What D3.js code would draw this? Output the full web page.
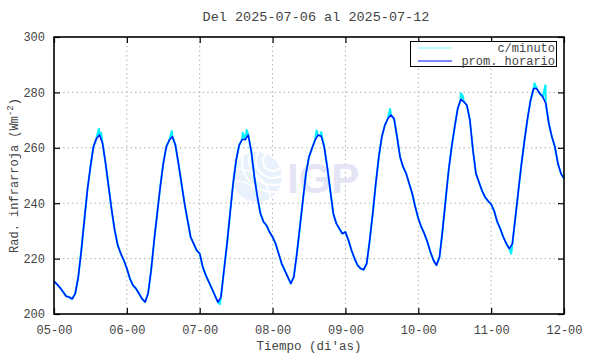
<!DOCTYPE html>
<html>
<head>
<meta charset="utf-8">
<script src="https://cdn.jsdelivr.net/npm/d3@7"></script>
<style>
  html, body { margin: 0; padding: 0; background: #fff; }
  svg { display: block; }
  text { font-family: "Liberation Mono", "DejaVu Sans Mono", monospace; fill: #444; }
</style>
</head>
<body>
<svg id="chart" width="590" height="354"></svg>
<script>
// ---- data (hourly averages, one array per day, value at hour 0..23) ----
const title = "Del 2025-07-06 al 2025-07-12";
const xTickLabels = ["05-00", "06-00", "07-00", "08-00", "09-00", "10-00", "11-00", "12-00"];
const yTicks = [200, 220, 240, 260, 280, 300];
const day05 = [211.8,210.7,209.5,208,206.4,206.1,205.5,207.4,213.4,223,233.9,244.7,253.1,260.4,263.4,264.6,261.6,254.3,245.9,237.5,230.2,224.8,221.8,219.4];
const day06 = [216.4,212.8,210.4,209.2,207.4,205.5,204.3,207.4,215.8,226.6,236.3,245.9,254.3,260.4,262.8,264,261,254.3,247.1,239.9,233.9,227.8,225.4,223];
const day07 = [221.8,217,214,211.6,209.2,206.7,204.3,206.1,215.8,225.4,236.3,247.1,255.5,261,263,263,264.6,258.6,249.5,242.3,236.3,233.3,232,229.6];
const day08 = [227.8,225.4,221.8,218.2,215.8,213.4,211,213.4,221.8,231.4,241.1,250.7,256.7,259.8,262.8,264.6,264.2,260.4,253.1,244.7,236.3,232.7,230.8,229];
const day09 = [229.6,226.6,223,220,217.6,216.4,216,218.2,226.6,236.3,247.1,256.7,264,268.2,270.6,271.8,270.6,264,256.7,253.1,250.7,247.1,243.5,238.7];
const day10 = [234.5,231.4,229,226,222.4,219.4,217.6,220.6,230.2,241.1,251.9,260.4,267.6,274.2,277.5,276.6,275.4,270,259.2,250.7,247.6,244.5,242.2,240.8];
const day11 = [239.6,237.2,233.3,230.8,227.8,225.4,223.6,225.4,235,244.7,254.3,262.8,270.6,277.2,281.4,281.4,279.6,278.4,276,268.8,264,260.4,254.3,250.7];
const lastValue = 248.9;
// per-minute extremes seen above/below the hourly curve: [hour since start, value]
const minuteSpikes = [[14.8,266.8],[15.5,265.4],[38.8,266],[62.2,265.4],[63.5,266.4],[54.6,203.6],
  [86.5,266.2],[88,265.6],[110.7,274],[134,279.6],[134.6,278.8],[158.3,283.2],[161.9,282.6],[5.8,205.4],[150.6,221.8]];

// ---- build series ----
const days = [day05, day06, day07, day08, day09, day10, day11];
const hourly = [];
days.forEach((d, i) => d.forEach((v, h) => hourly.push({t: i * 24 + h, v})));
hourly.push({t: 168, v: lastValue});
const minute = hourly.concat(minuteSpikes.map(s => ({t: s[0], v: s[1]}))).sort((a, b) => a.t - b.t);

// ---- layout ----
const L = 54, R = 564, T = 37, B = 314;
const svg = d3.select("#chart");
const x = d3.scaleLinear().domain([0, 168]).range([L, R]);
const y = d3.scaleLinear().domain([200, 300]).range([B, T]);
const xTicks = xTickLabels.map((_, i) => i * 24);

// grid
const grid = svg.append("g");
grid.selectAll("line.gx").data(xTicks.slice(1, -1)).join("line")
  .attr("x1", d => x(d)).attr("x2", d => x(d)).attr("y1", T).attr("y2", B)
  .attr("stroke", "#b0b0b0").attr("stroke-width", 1).attr("stroke-dasharray", "1.5,3");
grid.selectAll("line.gy").data(yTicks.slice(1, -1)).join("line")
  .attr("x1", L).attr("x2", R).attr("y1", d => y(d)).attr("y2", d => y(d))
  .attr("stroke", "#b0b0b0").attr("stroke-width", 1).attr("stroke-dasharray", "1.5,3");

// watermark logo
const wm = svg.append("g");
const cx = 257, cy = 177, r = 25;
wm.append("circle").attr("cx", cx).attr("cy", cy).attr("r", r).attr("fill", "#e8f1fc");
const clip = svg.append("clipPath").attr("id", "lc");
clip.append("circle").attr("cx", cx).attr("cy", cy).attr("r", r);
const arcs = wm.append("g").attr("clip-path", "url(#lc)");
[10, 17, 24, 31].forEach(rr => arcs.append("circle").attr("cx", cx + 16).attr("cy", cy - 16).attr("r", rr)
  .attr("fill", "none").attr("stroke", "#fff").attr("stroke-width", 2));
[22, 34].forEach(rr => arcs.append("circle").attr("cx", cx - 20).attr("cy", cy + 26).attr("r", rr)
  .attr("fill", "none").attr("stroke", "#fff").attr("stroke-width", 1.6));
wm.append("text").attr("x", 287).attr("y", 193).text("IGP")
  .style("font-family", "Liberation Sans, Arial, sans-serif").style("font-weight", "bold")
  .style("font-size", "42px").style("fill", "#e4e4f5");

// series
const line = d3.line().x(d => x(d.t)).y(d => y(d.v));
svg.append("path").datum(minute).attr("d", line).attr("fill", "none")
  .attr("stroke", "#00f0ff").attr("stroke-width", 2.1).attr("stroke-linejoin", "round");
svg.append("path").datum(hourly).attr("d", line).attr("fill", "none")
  .attr("stroke", "#0010ff").attr("stroke-width", 1.5).attr("stroke-linejoin", "round");

// axes (ticks inward on all sides)
const tickLen = 6;
const axB = svg.append("g").attr("transform", `translate(0,${B})`)
  .call(d3.axisBottom(x).tickValues(xTicks).tickFormat((d, i) => xTickLabels[i]).tickSizeInner(-tickLen).tickSizeOuter(0).tickPadding(11));
const axT = svg.append("g").attr("transform", `translate(0,${T})`)
  .call(d3.axisTop(x).tickValues(xTicks).tickFormat("").tickSizeInner(-tickLen).tickSizeOuter(0));
const axL = svg.append("g").attr("transform", `translate(${L},0)`)
  .call(d3.axisLeft(y).tickValues(yTicks).tickSizeInner(-tickLen).tickSizeOuter(0).tickPadding(9));
const axR = svg.append("g").attr("transform", `translate(${R},0)`)
  .call(d3.axisRight(y).tickValues(yTicks).tickFormat("").tickSizeInner(-tickLen).tickSizeOuter(0));
[axB, axT, axL, axR].forEach(a => {
  a.select(".domain").remove();
  a.selectAll(".tick line").attr("stroke", "#000").attr("stroke-width", 1.2);
  a.selectAll("text").style("font-family", "Liberation Mono, monospace").style("font-size", "12px").attr("fill", "#555");
});
// frame
svg.append("rect").attr("x", L).attr("y", T).attr("width", R - L).attr("height", B - T)
  .attr("fill", "none").attr("stroke", "#000").attr("stroke-width", 1.6);

// legend
const lg = svg.append("g");
lg.append("rect").attr("x", 410.5).attr("y", 41.5).attr("width", 146).attr("height", 25)
  .attr("fill", "#fff").attr("stroke", "#000").attr("stroke-width", 1);
const legendItems = [{label: "c/minuto", color: "#7ffcff"}, {label: "prom. horario", color: "#0010ff"}];
legendItems.forEach((it, i) => {
  const yy = 48 + i * 13;
  lg.append("line").attr("x1", 418).attr("x2", 452).attr("y1", yy).attr("y2", yy)
    .attr("stroke", it.color).attr("stroke-width", 1.2);
  lg.append("text").attr("x", 555).attr("y", yy + 4).attr("text-anchor", "end")
    .style("font-size", "12px").text(it.label);
});

// titles
svg.append("text").attr("x", 316).attr("y", 21).attr("text-anchor", "middle")
  .style("font-size", "13.5px").attr("fill", "#333").text(title);
svg.append("text").attr("x", (L + R) / 2).attr("y", 350).attr("text-anchor", "middle")
  .style("font-size", "12.5px").text("Tiempo (di'as)");
const yl = svg.append("text").attr("transform", `translate(18,${(T + B) / 2}) rotate(-90)`)
  .attr("text-anchor", "middle").style("font-size", "12px");
yl.append("tspan").text("Rad. infrarroja (Wm");
yl.append("tspan").attr("dy", -5).style("font-size", "9px").text("-2");
yl.append("tspan").attr("dy", 5).text(")");
</script>
</body>
</html>
